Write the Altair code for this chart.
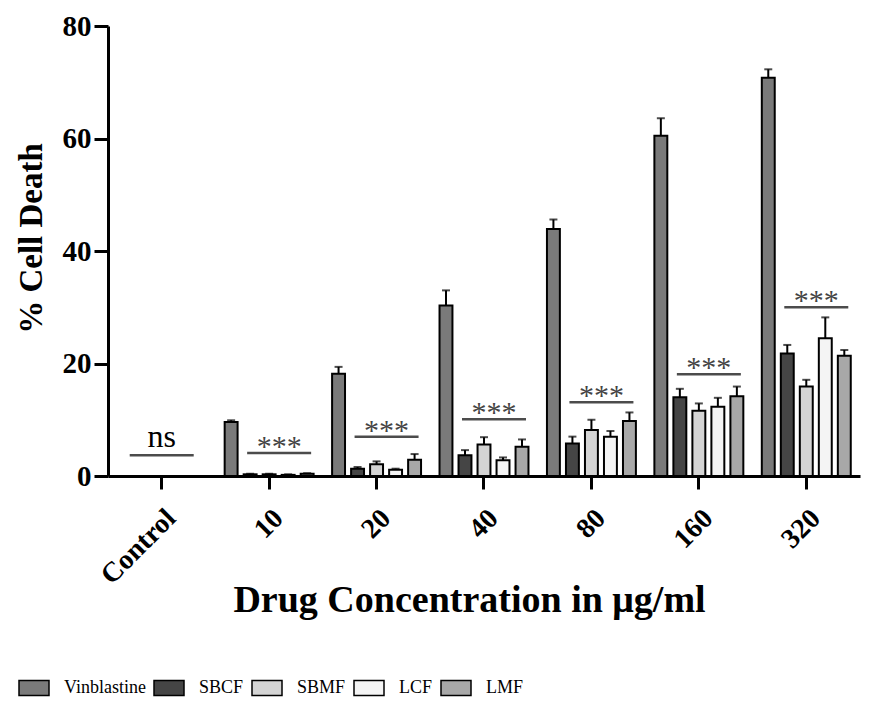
import altair as alt
import pandas as pd

groups = ["Control", "10", "20", "40", "80", "160", "320"]
series = ["Vinblastine", "SBCF", "SBMF", "LCF", "LMF"]

vinblastine = [0, 9.6, 18.2, 30.3, 43.9, 60.5, 70.8]
vinblastine_err = [0, 0.3, 1.2, 2.7, 1.7, 3.1, 1.5]
sbcf = [0, 0.3, 1.3, 3.7, 5.8, 14.0, 21.8]
sbcf_err = [0, 0.1, 0.3, 0.9, 1.2, 1.5, 1.5]
sbmf = [0, 0.3, 2.1, 5.6, 8.2, 11.6, 15.9]
sbmf_err = [0, 0.1, 0.5, 1.3, 1.8, 1.3, 1.2]
lcf = [0, 0.2, 1.1, 2.8, 7.0, 12.3, 24.5]
lcf_err = [0, 0.1, 0.2, 0.5, 1.0, 1.6, 3.7]
lmf = [0, 0.4, 2.9, 5.2, 9.8, 14.2, 21.4]
lmf_err = [0, 0.1, 1.0, 1.3, 1.5, 1.7, 1.0]

sig_level = [3.7, 4.1, 7.0, 10.1, 13.1, 18.1, 30.0]
sig_label = ["ns", "***", "***", "***", "***", "***", "***"]

fills = ["#7a7a7a", "#454545", "#d4d4d4", "#f4f4f4", "#a8a8a8"]

means = {"Vinblastine": vinblastine, "SBCF": sbcf, "SBMF": sbmf, "LCF": lcf, "LMF": lmf}
errs = {"Vinblastine": vinblastine_err, "SBCF": sbcf_err, "SBMF": sbmf_err, "LCF": lcf_err, "LMF": lmf_err}

rows = []
for s in series:
    for g, m, e in zip(groups, means[s], errs[s]):
        rows.append({"group": g, "series": s, "mean": m, "err": e})
df = pd.DataFrame(rows)

sig = pd.DataFrame({"group": groups, "level": sig_level, "label": sig_label})

FONT = "Liberation Serif"

x_enc = alt.X(
    "group:N",
    sort=groups,
    scale=alt.Scale(paddingInner=0.172, paddingOuter=0.086),
    axis=alt.Axis(
        title="Drug Concentration in μg/ml",
        labelAngle=-45,
        labelFontSize=28,
        labelFontWeight="bold",
        labelFont=FONT,
        labelPadding=15,
        tickSize=13,
        tickWidth=3,
        domainWidth=3,
        titleFont=FONT,
        titleFontSize=38,
        titleFontWeight="bold",
        titleX=361,
        titleY=135,
        titleAlign="center",
        titleBaseline="alphabetic",
        zindex=1,
    ),
)
xo_enc = alt.XOffset("series:N", sort=series, scale=alt.Scale(paddingInner=0.32, paddingOuter=0))
y_enc = alt.Y(
    "mean:Q",
    scale=alt.Scale(domain=[0, 80], nice=False),
    axis=alt.Axis(
        title="% Cell Death",
        values=[0, 20, 40, 60, 80],
        grid=False,
        labelFontSize=29,
        labelFontWeight="bold",
        labelFont=FONT,
        labelPadding=3,
        tickSize=14,
        tickWidth=3,
        domainWidth=3,
        titleFont=FONT,
        titleFontSize=33,
        titleFontWeight="bold",
        titleX=-67,
        titleY=212,
        titleAlign="center",
        titleBaseline="alphabetic",
        zindex=1,
    ),
)

base = alt.Chart(df)

bars = base.mark_bar(stroke="black", strokeWidth=2).encode(
    x=x_enc,
    xOffset=xo_enc,
    y=y_enc,
    fill=alt.Fill(
        "series:N",
        sort=series,
        scale=alt.Scale(domain=series, range=fills),
        legend=alt.Legend(
            title=None,
            orient="none",
            direction="horizontal",
            columns=5,
            gridAlign="none",
            legendX=-90,
            legendY=646,
            padding=0,
            symbolType="M-1,-0.5H1V0.5H-1Z",
            symbolSize=900,
            symbolStrokeColor="black",
            symbolStrokeWidth=1.5,
            labelFont=FONT,
            labelFontSize=18,
            labelColor="black",
            labelOffset=14,
            columnPadding=5,
        ),
    ),
)

err_rules = base.transform_calculate(upper="datum.mean + datum.err").mark_rule(
    color="black", strokeWidth=2
).encode(
    x=alt.X("group:N", sort=groups),
    xOffset=alt.XOffset("series:N", sort=series),
    y="mean:Q",
    y2="upper:Q",
)

err_caps = base.transform_calculate(upper="datum.mean + datum.err").mark_tick(
    color="black", thickness=2, size=8
).encode(
    x=alt.X("group:N", sort=groups),
    xOffset=alt.XOffset("series:N", sort=series),
    y=alt.Y("upper:Q"),
)

sig_base = alt.Chart(sig)

ns_line = sig_base.transform_filter("datum.group == 'Control'").mark_tick(
    color="black", thickness=2.5, size=64
).encode(x=alt.X("group:N", sort=groups), y=alt.Y("level:Q"))

star_line = sig_base.transform_filter("datum.group != 'Control'").mark_tick(
    color="black", thickness=2.5, size=64, xOffset=10
).encode(x=alt.X("group:N", sort=groups), y=alt.Y("level:Q"))

ns_text = sig_base.transform_filter("datum.group == 'Control'").mark_text(
    font=FONT, fontSize=32, color="black", baseline="alphabetic", dy=-8
).encode(x=alt.X("group:N", sort=groups), y=alt.Y("level:Q"), text="label:N")

star_text = sig_base.transform_filter("datum.group != 'Control'").mark_text(
    font=FONT, fontSize=30, color="#444444", baseline="alphabetic", dy=3, xOffset=10
).encode(x=alt.X("group:N", sort=groups), y=alt.Y("level:Q"), text="label:N")

chart = alt.layer(
    bars, err_rules, err_caps, ns_line, star_line, ns_text, star_text
).properties(
    width=752,
    height=450,
    autosize=alt.AutoSizeParams(type="none"),
    padding={"left": 100, "top": 18, "right": 28, "bottom": 222},
).configure_view(stroke=None).configure_axis(
    domainColor="black", tickColor="black", labelColor="black", titleColor="black"
)

chart.save("out.html", embed_options={"renderer": "svg", "actions": False})
